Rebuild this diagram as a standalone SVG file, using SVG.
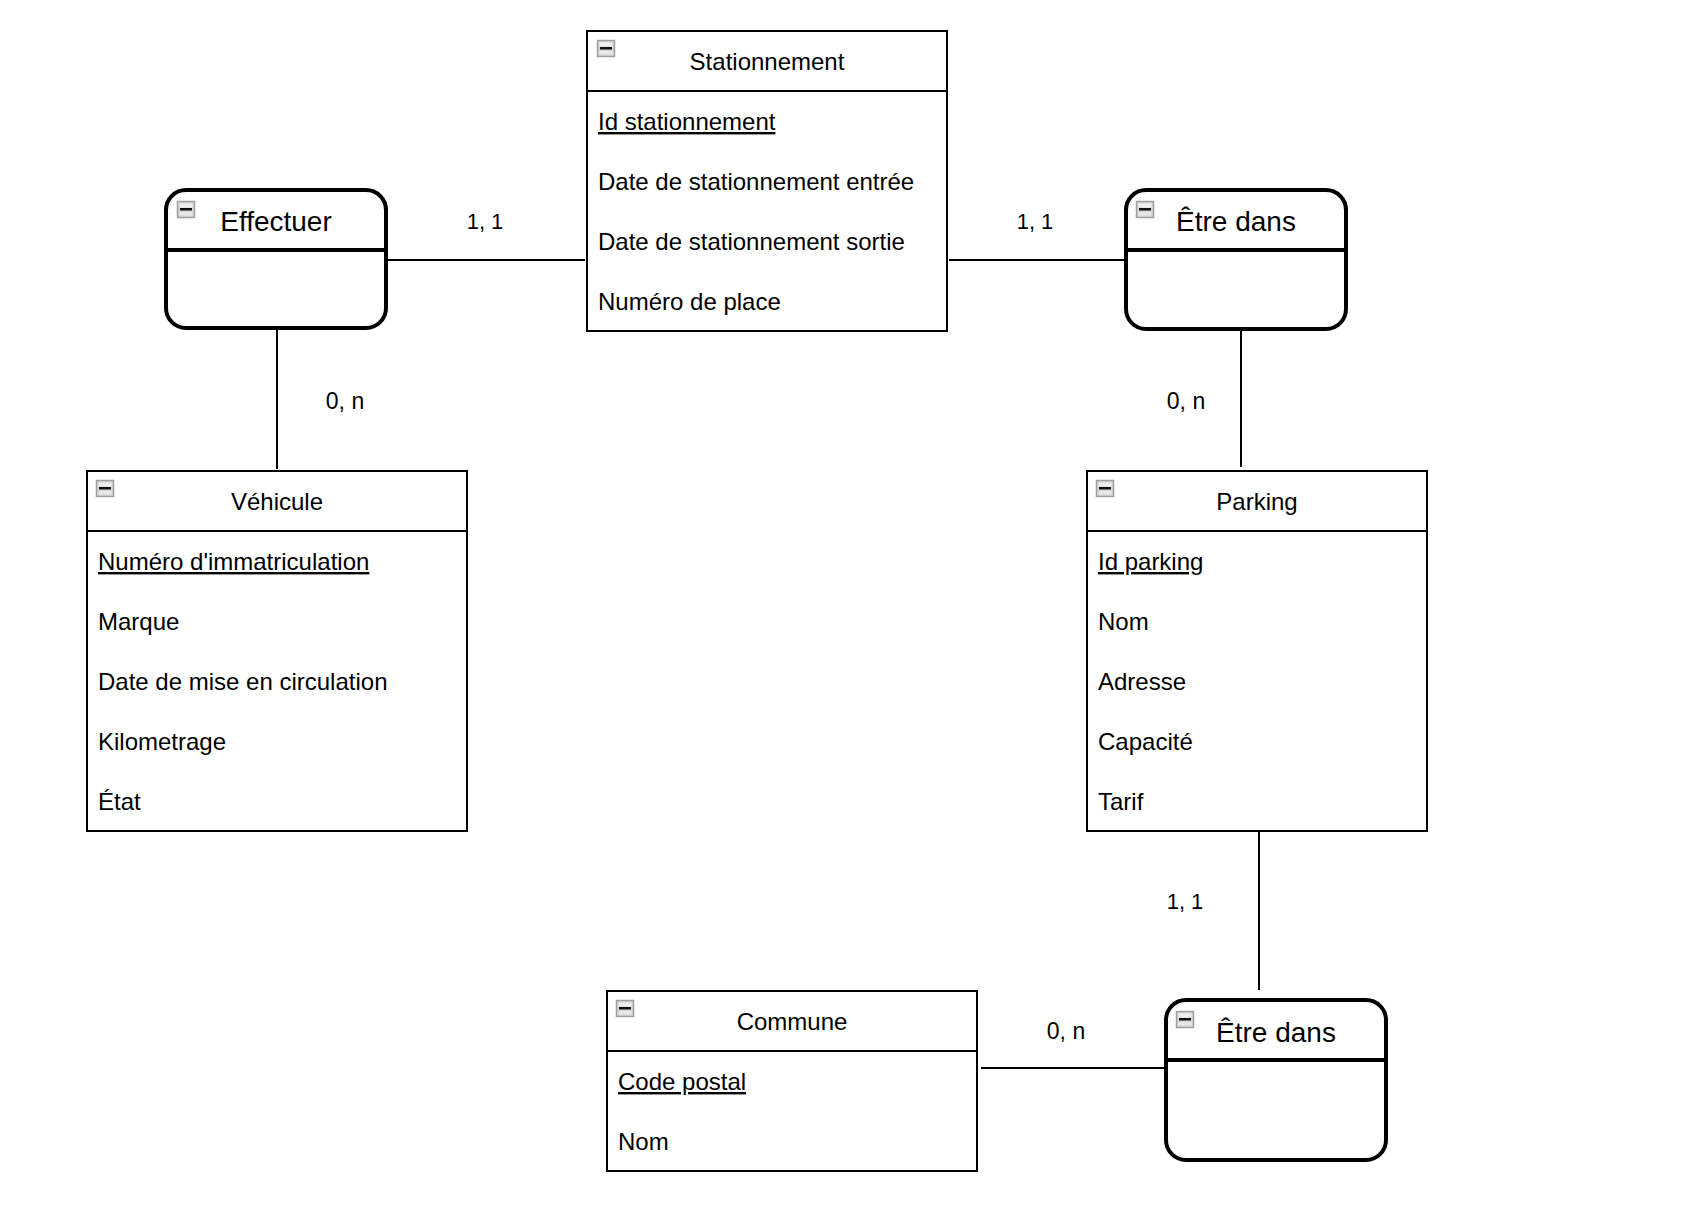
<svg xmlns="http://www.w3.org/2000/svg" width="1682" height="1224" viewBox="0 0 1682 1224">
  <style>
    .entity { fill: #ffffff; stroke: #000000; stroke-width: 2; }
    .rel { fill: #ffffff; stroke: #000000; stroke-width: 4; }
    .sep { stroke: #000000; stroke-width: 2; }
    .rsep { stroke: #000000; stroke-width: 4; }
    .conn { stroke: #000000; stroke-width: 2; fill: none; }
    .title { font-family: "Liberation Sans", Arial, Helvetica, sans-serif; font-size: 24px; fill: #000000; text-anchor: middle; }
    .rtitle { font-family: "Liberation Sans", Arial, Helvetica, sans-serif; font-size: 28px; fill: #000000; text-anchor: middle; }
    .attr { font-family: "Liberation Sans", Arial, Helvetica, sans-serif; font-size: 24px; fill: #000000; }
    .key { text-decoration: underline; }
    .card { font-family: "Liberation Sans", Arial, Helvetica, sans-serif; font-size: 22px; fill: #000000; text-anchor: middle; }
    .card2 { font-family: "Liberation Sans", Arial, Helvetica, sans-serif; font-size: 23px; fill: #000000; text-anchor: middle; }
  </style>
  <defs>
    <!-- collapse toggle shown in each header -->
    <g id="toggle">
      <rect x="0.5" y="0.5" width="17" height="16" fill="#d6d6d6" stroke="#a0a0a0" stroke-width="1.5"/>
      <rect x="2.5" y="2.5" width="13" height="4" fill="#efefef"/>
      <rect x="3" y="7" width="12" height="2.5" fill="#111111"/>
      <rect x="2.5" y="11" width="13" height="3.5" fill="#e8e8e8"/>
    </g>
  </defs>

  <rect width="1682" height="1224" fill="#ffffff"/>

  <g id="connectors">
    <line class="conn" x1="388" y1="260" x2="585" y2="260"/>
    <line class="conn" x1="277" y1="330" x2="277" y2="469"/>
    <line class="conn" x1="949" y1="260" x2="1124" y2="260"/>
    <line class="conn" x1="1241" y1="331" x2="1241" y2="467"/>
    <line class="conn" x1="1259" y1="832" x2="1259" y2="990"/>
    <line class="conn" x1="981" y1="1068" x2="1164" y2="1068"/>
    <text class="card" x="485" y="229">1, 1</text>
    <text class="card" x="1035" y="229">1, 1</text>
    <text class="card2" x="345" y="409">0, n</text>
    <text class="card2" x="1186" y="409">0, n</text>
    <text class="card" x="1185" y="909">1, 1</text>
    <text class="card2" x="1066" y="1039">0, n</text>
  </g>

  <g id="stationnement">
    <rect class="entity" x="587" y="31" width="360" height="300"/>
    <line class="sep" x1="587" y1="91" x2="947" y2="91"/>
    <use href="#toggle" x="597" y="40"/>
    <text class="title" x="767" y="70">Stationnement</text>
    <text class="attr key" x="598" y="130">Id stationnement</text>
    <text class="attr" x="598" y="190">Date de stationnement entrée</text>
    <text class="attr" x="598" y="250">Date de stationnement sortie</text>
    <text class="attr" x="598" y="310">Numéro de place</text>
  </g>

  <g id="effectuer">
    <rect class="rel" x="166" y="190" width="220" height="138" rx="20" ry="20"/>
    <line class="rsep" x1="166" y1="250" x2="386" y2="250"/>
    <use href="#toggle" x="177" y="201"/>
    <text class="rtitle" x="276" y="231">Effectuer</text>
  </g>

  <g id="etre-dans-parking">
    <rect class="rel" x="1126" y="190" width="220" height="139" rx="20" ry="20"/>
    <line class="rsep" x1="1126" y1="250" x2="1346" y2="250"/>
    <use href="#toggle" x="1136" y="201"/>
    <text class="rtitle" x="1236" y="231">Être dans</text>
  </g>

  <g id="vehicule">
    <rect class="entity" x="87" y="471" width="380" height="360"/>
    <line class="sep" x1="87" y1="531" x2="467" y2="531"/>
    <use href="#toggle" x="96" y="480"/>
    <text class="title" x="277" y="510">Véhicule</text>
    <text class="attr key" x="98" y="570">Numéro d'immatriculation</text>
    <text class="attr" x="98" y="630">Marque</text>
    <text class="attr" x="98" y="690">Date de mise en circulation</text>
    <text class="attr" x="98" y="750">Kilometrage</text>
    <text class="attr" x="98" y="810">État</text>
  </g>

  <g id="parking">
    <rect class="entity" x="1087" y="471" width="340" height="360"/>
    <line class="sep" x1="1087" y1="531" x2="1427" y2="531"/>
    <use href="#toggle" x="1096" y="480"/>
    <text class="title" x="1257" y="510">Parking</text>
    <text class="attr key" x="1098" y="570">Id parking</text>
    <text class="attr" x="1098" y="630">Nom</text>
    <text class="attr" x="1098" y="690">Adresse</text>
    <text class="attr" x="1098" y="750">Capacité</text>
    <text class="attr" x="1098" y="810">Tarif</text>
  </g>

  <g id="commune">
    <rect class="entity" x="607" y="991" width="370" height="180"/>
    <line class="sep" x1="607" y1="1051" x2="977" y2="1051"/>
    <use href="#toggle" x="616" y="1000"/>
    <text class="title" x="792" y="1030">Commune</text>
    <text class="attr key" x="618" y="1090">Code postal</text>
    <text class="attr" x="618" y="1150">Nom</text>
  </g>

  <g id="etre-dans-commune">
    <rect class="rel" x="1166" y="1000" width="220" height="160" rx="20" ry="20"/>
    <line class="rsep" x1="1166" y1="1060" x2="1386" y2="1060"/>
    <use href="#toggle" x="1176" y="1011"/>
    <text class="rtitle" x="1276" y="1042">Être dans</text>
  </g>
</svg>
